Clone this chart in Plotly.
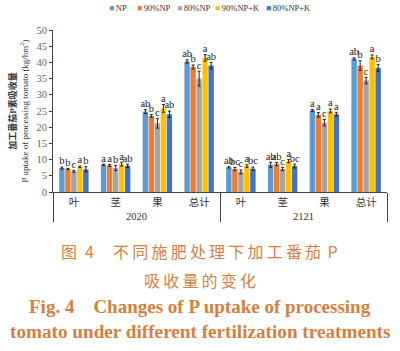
import plotly.graph_objects as go

years = ["2020"] * 4 + ["2121"] * 4
organs = ["叶", "茎", "果", "总计"] * 2
treatments = ["NP", "90%NP", "80%NP", "90%NP+K", "80%NP+K"]
colors = ["#5b9bd5", "#ed7d31", "#a5a5a5", "#ffc000", "#4472c4"]

NP = [7.4, 8.4, 24.8, 40.3, 7.6, 8.4, 25.2, 41.1]
NP90 = [7.1, 8.2, 23.5, 38.6, 7.1, 8.6, 23.8, 39.0]
NP80 = [6.4, 7.4, 21.2, 35.0, 6.2, 7.1, 21.4, 34.4]
NP90K = [7.8, 8.6, 25.8, 41.4, 8.0, 9.5, 25.0, 41.7]
NP80K = [7.0, 8.1, 24.0, 39.0, 7.2, 8.0, 24.0, 38.3]
values = [NP, NP90, NP80, NP90K, NP80K]

err_NP = [0.3, 0.2, 0.6, 0.5, 0.2, 0.8, 0.3, 0.3]
err_NP90 = [0.2, 0.3, 0.4, 0.6, 0.5, 0.5, 0.7, 1.5]
err_NP80 = [0.3, 0.8, 1.5, 2.3, 0.6, 0.5, 1.0, 1.0]
err_NP90K = [0.2, 0.6, 1.2, 1.0, 0.4, 0.5, 0.6, 0.6]
err_NP80K = [0.8, 0.5, 1.0, 1.0, 0.5, 0.6, 0.6, 1.1]
errors = [err_NP, err_NP90, err_NP80, err_NP90K, err_NP80K]

let_NP = ["b", "a", "ab", "ab", "ab", "ab", "a", "ab"]
let_NP90 = ["b", "a", "b", "b", "bc", "ab", "a", "b"]
let_NP80 = ["c", "b", "c", "c", "c", "c", "c", "c"]
let_NP90K = ["a", "a", "a", "a", "a", "a", "a", "a"]
let_NP80K = ["b", "ab", "ab", "ab", "bc", "bc", "a", "b"]
letters = [let_NP, let_NP90, let_NP80, let_NP90K, let_NP80K]

legend_x = [0.163, 0.246, 0.364, 0.479, 0.633]

x = [years, organs]
fig = go.Figure()
for i, t in enumerate(treatments):
    fig.add_trace(go.Bar(
        x=x, y=values[i], name=t, marker=dict(color=colors[i], line=dict(width=0)),
        offsetgroup=t, showlegend=False,
        error_y=dict(type="data", array=errors[i], visible=True, color="#222222",
                     thickness=1, width=1.5),
    ))
for i, t in enumerate(treatments):
    fig.add_trace(go.Scatter(
        x=x, y=[v + e for v, e in zip(values[i], errors[i])], mode="text",
        text=letters[i], textposition="top center", offsetgroup=t,
        textfont=dict(family="Liberation Serif", size=10.5, color="#222222"),
        showlegend=False, hoverinfo="skip",
    ))

anns = []
for i, t in enumerate(treatments):
    anns.append(dict(text="<span style='color:%s'>■</span>\u2009%s" % (colors[i], t),
                     x=legend_x[i], y=1.135, xref="paper", yref="paper", showarrow=False,
                     xanchor="left", yanchor="middle",
                     font=dict(family="Liberation Serif", size=8.5, color="#333333")))

cap_color = "#d4803f"
sp = "\u2009"
caps = [
    ("图" + "\u2002" + "4" + "\u3000" + sp + sp.join("不同施肥处理下加工番茄") + sp + sp + "P", -0.362, "Noto Sans CJK SC", 16),
    (sp.join("吸收量的变化"), -0.546, "Noto Sans CJK SC", 16),
    ("<b>Fig. 4    Changes of P uptake of processing</b>", -0.706, "Liberation Serif", 19),
    ("<b>tomato under different fertilization treatments</b>", -0.859, "Liberation Serif", 19.2),
]
for txt, yy, fam, sz in caps:
    anns.append(dict(text=txt, x=0.44, y=yy, xref="paper", yref="paper", showarrow=False,
                     xanchor="center", yanchor="middle",
                     font=dict(family=fam, size=sz, color=cap_color)))

fig.update_layout(
    width=400, height=351,
    margin=dict(l=49, r=13, t=30, b=159),
    paper_bgcolor="white", plot_bgcolor="white",
    barmode="group", scattermode="group", bargap=0.28, bargroupgap=0.1,
    showlegend=False,
    font=dict(family="Liberation Serif", color="#333333"),
    annotations=anns,
    yaxis=dict(range=[0, 50], dtick=5, showgrid=False, showline=True, linecolor="#444444",
               linewidth=1, ticks="outside", ticklen=3, tickcolor="#444444",
               tickfont=dict(family="Liberation Serif", size=10.5, color="#666666"),
               title=dict(text="<b>加工番茄P素吸收量</b><br>P uptake of processing tomato (kg/hm<sup>2</sup>)",
                          font=dict(family="Liberation Serif, Noto Sans CJK SC", size=9, color="#333333"),
                          standoff=6)),
    xaxis=dict(type="multicategory", showline=True, linecolor="#444444", linewidth=1,
               showdividers=True, dividercolor="#444444", dividerwidth=1,
               tickfont=dict(family="Liberation Serif, Noto Sans CJK SC", size=10.5, color="#333333"),
               showgrid=False),
)
fig.write_html("out.html")
